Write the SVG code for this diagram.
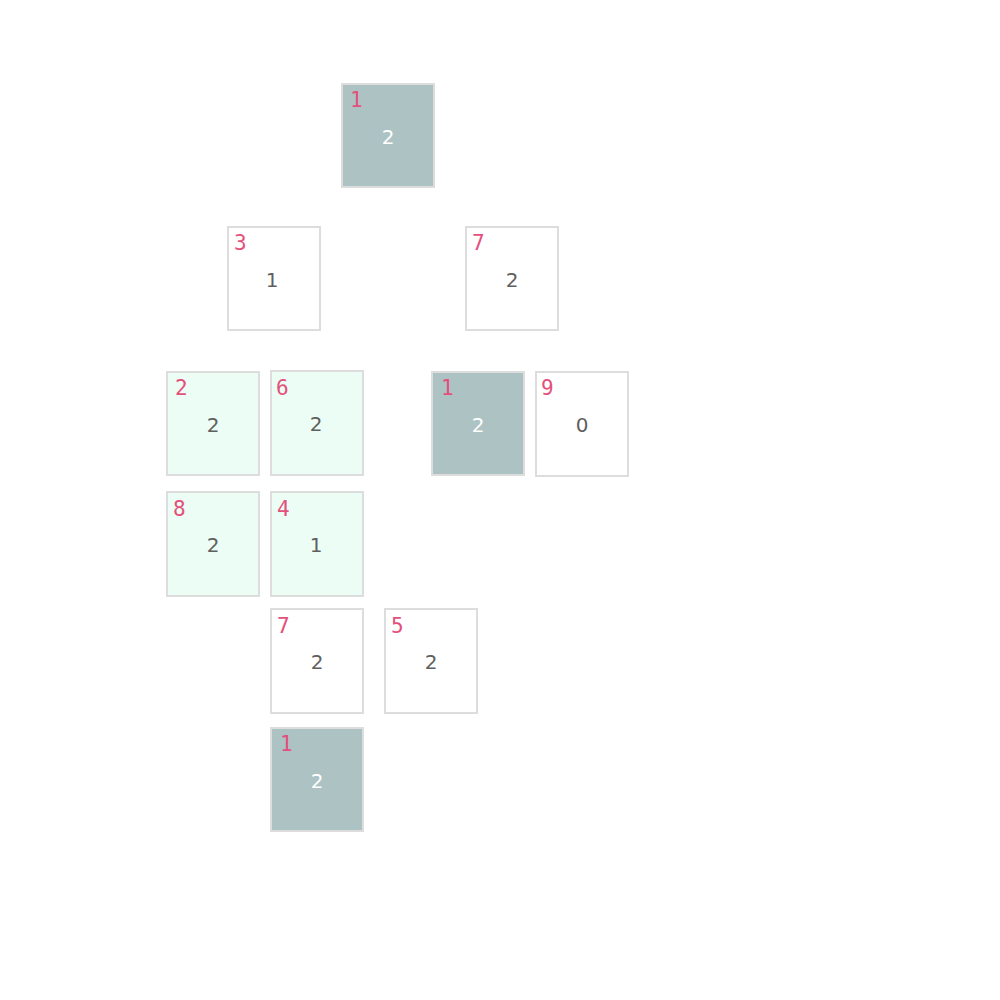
<svg xmlns="http://www.w3.org/2000/svg" width="1000" height="1000" viewBox="0 0 1000 1000">
<style>
.box{stroke:#dddddd;stroke-width:2}
.dark{fill:#adc3c3}
.white{fill:#ffffff}
.green{fill:#ebfdf4}
.idx{font-family:"DejaVu Sans Mono","Liberation Mono",monospace;font-size:21px;fill:#e4507c}
.val{font-family:"DejaVu Sans","Liberation Sans",sans-serif;font-size:20px;text-anchor:middle;fill:#5f5f5f}
.valw{fill:#ffffff}
</style>
<rect width="1000" height="1000" fill="#ffffff"/>
<g id="n1"><rect class="box dark" x="342" y="84" width="92" height="103"/><text class="idx" x="350" y="107">1</text><text class="val valw" x="388" y="144">2</text></g>
<g id="n2"><rect class="box white" x="228" y="227" width="92" height="103"/><text class="idx" x="234" y="250">3</text><text class="val" x="272" y="287">1</text></g>
<g id="n3"><rect class="box white" x="466" y="227" width="92" height="103"/><text class="idx" x="472" y="250">7</text><text class="val" x="512" y="287">2</text></g>
<g id="n4"><rect class="box green" x="167" y="372" width="92" height="103"/><text class="idx" x="175" y="395">2</text><text class="val" x="213" y="432">2</text></g>
<g id="n5"><rect class="box green" x="271" y="371" width="92" height="104"/><text class="idx" x="276" y="395">6</text><text class="val" x="316" y="431">2</text></g>
<g id="n6"><rect class="box dark" x="432" y="372" width="92" height="103"/><text class="idx" x="441" y="395">1</text><text class="val valw" x="478" y="432">2</text></g>
<g id="n7"><rect class="box white" x="536" y="372" width="92" height="104"/><text class="idx" x="541" y="395">9</text><text class="val" x="582" y="432">0</text></g>
<g id="n8"><rect class="box green" x="167" y="492" width="92" height="104"/><text class="idx" x="173" y="516">8</text><text class="val" x="213" y="552">2</text></g>
<g id="n9"><rect class="box green" x="271" y="492" width="92" height="104"/><text class="idx" x="277" y="516">4</text><text class="val" x="316" y="552">1</text></g>
<g id="n10"><rect class="box white" x="271" y="609" width="92" height="104"/><text class="idx" x="277" y="633">7</text><text class="val" x="317" y="669">2</text></g>
<g id="n11"><rect class="box white" x="385" y="609" width="92" height="104"/><text class="idx" x="391" y="633">5</text><text class="val" x="431" y="669">2</text></g>
<g id="n12"><rect class="box dark" x="271" y="728" width="92" height="103"/><text class="idx" x="280" y="751">1</text><text class="val valw" x="317" y="788">2</text></g>
<g id="connectors"></g>
</svg>
